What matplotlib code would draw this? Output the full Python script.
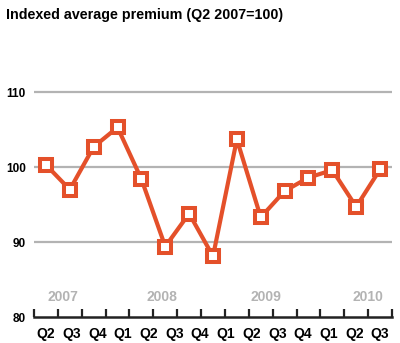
import numpy as np
import matplotlib.pyplot as plt

plt.rcParams['font.family'] = ['Liberation Sans', 'DejaVu Sans']

# indexed average premium per quarter, Q2 2007 = 100
premium = [100.3, 97.0, 102.7, 105.3, 98.4, 89.4, 93.8, 88.1, 103.7,
           93.3, 96.8, 98.6, 99.6, 94.7, 99.7]
quarter_labels = ['Q2', 'Q3', 'Q4', 'Q1', 'Q2', 'Q3', 'Q4', 'Q1', 'Q2',
                  'Q3', 'Q4', 'Q1', 'Q2', 'Q3']
years = ['2007', '2008', '2009', '2010']
year_pos = [0.7, 4.85, 9.2, 13.5]
yticks = [80, 90, 100, 110]

orange = '#E4502A'
grey = '#b3b3b3'

fig = plt.figure(figsize=(4.0, 3.43), dpi=100)
ax = fig.add_axes([0.085, 0.0758, 0.895, 0.743])

x = np.arange(len(premium))
ax.plot(x, premium, color=orange, lw=3.0, marker='s', ms=8.2,
        mfc='white', mec=orange, mew=2.9, zorder=3, clip_on=False)

for v in yticks[1:]:
    ax.axhline(v, color=grey, lw=1.6, zorder=1)

ax.set_xlim(-0.5, 14.5)
ax.set_ylim(80, 114)

for s in ['top', 'right', 'left']:
    ax.spines[s].set_visible(False)
ax.spines['bottom'].set_linewidth(1.8)
ax.spines['bottom'].set_color('#222222')

# tick marks between quarters, labels evenly spread underneath
ax.set_xticks(np.arange(-0.5, 15, 1.0))
ax.set_xticklabels([])
ax.tick_params(axis='x', which='major', direction='in', length=6,
               width=1.6, color='#222222')
ax.set_xticks(np.linspace(0, 14, len(quarter_labels)), minor=True)
ax.set_xticklabels(quarter_labels, minor=True, fontsize=10,
                   fontweight='bold')
ax.tick_params(axis='x', which='minor', length=0, pad=7)

ax.set_yticks(yticks)
ax.set_yticklabels([str(v) for v in yticks], fontsize=8.5, fontweight='bold')
ax.tick_params(axis='y', length=0, pad=6)

for label, pos in zip(years, year_pos):
    ax.text(pos, 82.7, label, color=grey, fontsize=10, fontweight='bold',
            ha='center', va='center')

fig.text(0.015, 1 - 15 / 343, 'Indexed average premium (Q2 2007=100)',
         fontsize=10.3, fontweight='bold', va='center', ha='left')

fig.savefig('out.png', dpi=100)
